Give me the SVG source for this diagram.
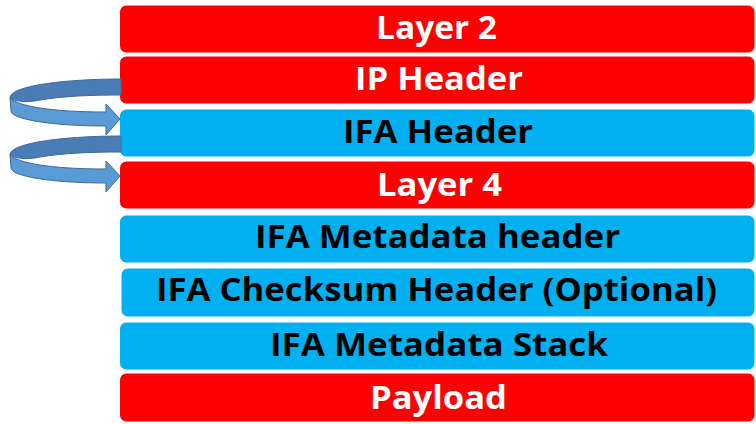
<svg xmlns="http://www.w3.org/2000/svg" width="756" height="424" viewBox="0 0 756 424">
  <style>
    .red { fill: #FF0000; stroke: #FFFFFF; stroke-width: 1; }
    .blue { fill: #00B0F0; stroke: #FFFFFF; stroke-width: 1; }
    .lbl { font-family: "Open Sans", "Liberation Sans", sans-serif; font-weight: bold; font-size: 33px; }
    .w { fill: #FFFFFF; }
    .k { fill: #000000; }
    .back { fill: #4A7DB5; stroke: #3C6A9C; stroke-width: 1; }
    .front { fill: #5B9BD5; stroke: #3C6A9C; stroke-width: 1; }
  </style>
  <defs>
    <g id="curl">
      <path class="back" d="M121,79 C 70,79 10,85 10,98 C 20,103 30,102 40,100 C 64,96 92,95 121,95 Z"/>
      <path class="front" d="M10,98 C 18,106 50,112 106,112 L106,104 L120,119 L106,135 L106,126 C 50,126 11,119 11,111 Z"/>
    </g>
  </defs>
  <g id="layer2">
    <rect class="red" x="119.5" y="5" width="635.5" height="48" rx="7"/>
    <text class="lbl w" x="376" y="39" textLength="121" lengthAdjust="spacingAndGlyphs">Layer 2</text>
  </g>
  <g id="ip-header">
    <rect class="red" x="119.5" y="56" width="635.5" height="48" rx="7"/>
    <text class="lbl w" x="355" y="90" textLength="168" lengthAdjust="spacingAndGlyphs">IP Header</text>
  </g>
  <g id="ifa-header">
    <rect class="blue" x="119.5" y="109" width="635.5" height="48" rx="7"/>
    <text class="lbl k" x="343" y="143" textLength="190" lengthAdjust="spacingAndGlyphs">IFA Header</text>
  </g>
  <g id="layer4">
    <rect class="red" x="119.5" y="161" width="635.5" height="48" rx="7"/>
    <text class="lbl w" x="377" y="196" textLength="125" lengthAdjust="spacingAndGlyphs">Layer 4</text>
  </g>
  <g id="ifa-metadata-header">
    <rect class="blue" x="119.5" y="215" width="635.5" height="48" rx="7"/>
    <text class="lbl k" x="255" y="248" textLength="365" lengthAdjust="spacingAndGlyphs">IFA Metadata header</text>
  </g>
  <g id="ifa-checksum-header">
    <rect class="blue" x="121" y="268" width="634" height="49" rx="7"/>
    <text class="lbl k" x="156" y="301" textLength="561" lengthAdjust="spacingAndGlyphs">IFA Checksum Header (Optional)</text>
  </g>
  <g id="ifa-metadata-stack">
    <rect class="blue" x="119.5" y="322" width="635.5" height="48" rx="7"/>
    <text class="lbl k" x="270" y="356" textLength="338" lengthAdjust="spacingAndGlyphs">IFA Metadata Stack</text>
  </g>
  <g id="payload">
    <rect class="red" x="119.5" y="373" width="635.5" height="49" rx="7"/>
    <text class="lbl w" x="370" y="409" textLength="137" lengthAdjust="spacingAndGlyphs">Payload</text>
  </g>
  <g id="connectors">
    <use href="#curl"/>
    <use href="#curl" transform="translate(0,57)"/>
  </g>
</svg>
